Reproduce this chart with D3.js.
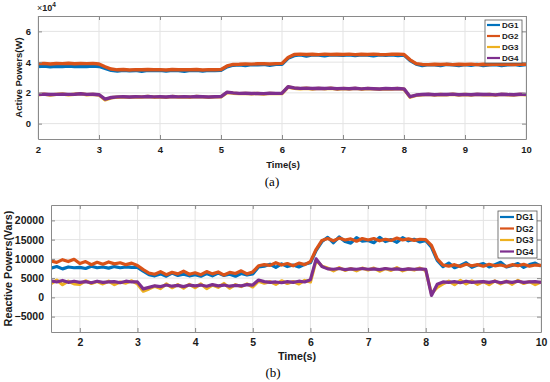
<!DOCTYPE html>
<html>
<head>
<meta charset="utf-8">
<style>
  body { margin: 0; background: #fff; }
  svg { font-family: "Liberation Sans", Arial, sans-serif; }
  .tick text { font-weight: bold; fill: #1a1a1a; }
  .grid line { stroke: #e3e3e3; }
</style>
</head>
<body>
<div id="chart"></div>
<script src="https://d3js.org/d3.v7.min.js"></script>
<script>
var seriesNames = ['DG1', 'DG2', 'DG3', 'DG4'];
var colors = ['#0072BD', '#D95319', '#EDB120', '#7E2F8E'];

// (a) active power, values in x10^4 W, sampled every 0.1 s
var timeA = [2.0,2.1,2.2,2.3,2.4,2.5,2.6,2.7,2.8,2.9,3.0,3.1,3.2,3.3,3.4,3.5,3.6,3.7,3.8,3.9,
  4.0,4.1,4.2,4.3,4.4,4.5,4.6,4.7,4.8,4.9,5.0,5.1,5.2,5.3,5.4,5.5,5.6,5.7,5.8,5.9,
  6.0,6.1,6.2,6.3,6.4,6.5,6.6,6.7,6.8,6.9,7.0,7.1,7.2,7.3,7.4,7.5,7.6,7.7,7.8,7.9,
  8.0,8.1,8.2,8.3,8.4,8.5,8.6,8.7,8.8,8.9,9.0,9.1,9.2,9.3,9.4,9.5,9.6,9.7,9.8,9.9,10.0];
var activeDG1 = [3.72,3.74,3.7,3.73,3.72,3.75,3.71,3.73,3.72,3.74,
  3.72,3.6,3.46,3.42,3.47,3.44,3.46,3.41,3.47,3.45,
  3.46,3.42,3.47,3.45,3.41,3.46,3.47,3.42,3.46,3.45,
  3.47,3.7,3.8,3.83,3.78,3.84,3.82,3.85,3.8,3.86,
  3.86,4.25,4.42,4.47,4.4,4.48,4.46,4.41,4.47,4.46,
  4.45,4.48,4.42,4.47,4.46,4.41,4.47,4.45,4.48,4.42,
  4.46,4.1,3.87,3.78,3.84,3.82,3.77,3.85,3.83,3.78,
  3.84,3.8,3.85,3.77,3.83,3.84,3.78,3.82,3.85,3.79,3.84];
var activeDG2 = [3.9,3.92,3.88,3.91,3.9,3.93,3.89,3.91,3.9,3.92,
  3.88,3.7,3.55,3.5,3.52,3.49,3.51,3.5,3.52,3.5,
  3.51,3.49,3.52,3.5,3.51,3.5,3.52,3.49,3.51,3.5,
  3.52,3.75,3.85,3.86,3.88,3.87,3.89,3.9,3.88,3.9,
  3.92,4.3,4.5,4.52,4.5,4.51,4.49,4.52,4.5,4.51,
  4.5,4.52,4.49,4.51,4.5,4.52,4.5,4.49,4.51,4.52,
  4.5,4.15,3.9,3.85,3.84,3.86,3.85,3.87,3.84,3.86,
  3.85,3.87,3.84,3.86,3.85,3.87,3.84,3.86,3.85,3.87,3.86];
var activeDG3 = [1.88,1.92,1.86,1.9,1.93,1.87,1.91,1.95,1.88,1.9,
  1.86,1.55,1.68,1.72,1.74,1.71,1.75,1.73,1.76,1.72,
  1.74,1.71,1.76,1.73,1.75,1.72,1.76,1.74,1.71,1.75,
  1.74,2.02,1.98,1.95,1.97,1.94,1.96,1.93,1.97,1.95,
  1.96,2.38,2.3,2.27,2.3,2.25,2.29,2.26,2.3,2.24,
  2.28,2.25,2.29,2.24,2.28,2.26,2.23,2.27,2.25,2.28,
  2.24,1.72,1.84,1.87,1.9,1.86,1.89,1.87,1.91,1.86,
  1.89,1.86,1.9,1.87,1.89,1.85,1.9,1.88,1.86,1.9,1.88];
var activeDG4 = [1.9,1.91,1.89,1.9,1.92,1.9,1.91,1.94,1.9,1.91,
  1.88,1.6,1.7,1.74,1.75,1.73,1.75,1.74,1.76,1.74,
  1.75,1.73,1.76,1.74,1.75,1.74,1.76,1.75,1.73,1.75,
  1.76,2.05,2.0,1.97,1.98,1.96,1.97,1.95,1.98,1.97,
  1.98,2.4,2.32,2.29,2.31,2.28,2.3,2.28,2.31,2.27,
  2.29,2.27,2.3,2.26,2.29,2.27,2.25,2.28,2.27,2.28,
  2.26,1.75,1.86,1.89,1.91,1.88,1.9,1.89,1.92,1.88,
  1.9,1.88,1.91,1.89,1.9,1.87,1.91,1.89,1.88,1.91,1.9];
var activeTicksX = [2, 3, 4, 5, 6, 7, 8, 9, 10];
var activeTicksY = [0, 2, 4, 6];

// (b) reactive power, Vars
var timeB = [1.5,1.6,1.7,1.8,1.9,
  2.0,2.1,2.2,2.3,2.4,2.5,2.6,2.7,2.8,2.9,3.0,3.1,3.2,3.3,3.4,3.5,3.6,3.7,3.8,3.9,
  4.0,4.1,4.2,4.3,4.4,4.5,4.6,4.7,4.8,4.9,5.0,5.1,5.2,5.3,5.4,5.5,5.6,5.7,5.8,5.9,
  6.0,6.1,6.2,6.3,6.4,6.5,6.6,6.7,6.8,6.9,7.0,7.1,7.2,7.3,7.4,7.5,7.6,7.7,7.8,7.9,
  8.0,8.1,8.2,8.3,8.4,8.5,8.6,8.7,8.8,8.9,9.0,9.1,9.2,9.3,9.4,9.5,9.6,9.7,9.8,9.9,10.0];
var reactiveDG1 = [7600,8000,7400,7900,7700,
  7800,7500,8100,7700,7900,7600,8000,7700,7900,7800,
  7800,6800,5900,5600,6100,5500,6300,5700,6000,5600,
  5900,5500,6200,5600,6300,5700,6000,5500,6200,5800,
  6100,7900,8100,8600,7800,8700,8000,8400,7900,8600,
  9000,12200,14500,15600,14200,15700,14500,14100,15500,14600,
  14800,14200,15600,14500,15000,14300,15500,14700,15100,14400,
  14800,13000,9600,8000,8900,7700,8300,9000,7800,8400,
  8800,7900,8500,9100,7900,8300,8800,7800,8500,8900,8100];
var reactiveDG2 = [9400,9100,9800,9300,9900,
  8800,9300,8500,9100,8600,9200,8700,9000,8500,8900,
  8300,7200,6300,6000,6700,5900,6500,6100,6800,6000,
  6400,5900,6700,6100,6600,5800,6500,6200,6900,6100,
  6600,8200,8500,8300,9000,8400,8800,8200,8900,8500,
  9300,12500,14800,15300,14700,15400,14900,15200,14600,15300,
  14900,15300,14700,15100,14800,15400,14900,15200,14800,15100,
  15000,13500,10000,8400,8100,8500,8000,8600,8200,8500,
  8100,8600,8200,8400,8000,8500,8200,8600,8100,8400,8300];
var reactiveDG3 = [3600,4500,3300,4200,3500,
  3400,4300,3600,4100,3500,4200,3300,4000,3700,4300,
  3500,1600,2200,2900,2300,3500,2500,3300,2400,3400,
  2500,3500,2300,3200,2600,3600,2400,3300,2800,3500,
  2700,4200,3700,4100,3400,4300,3600,4100,3500,4400,
  4000,9600,8100,7600,6900,7700,7000,7500,6900,7600,
  7100,7600,6800,7500,7000,7700,6900,7400,7100,7600,
  7000,1000,2600,3500,4200,3300,4400,3500,4300,3400,
  4100,3300,4300,3500,4200,3400,4400,3600,4100,3300,4000];
var reactiveDG4 = [4300,4000,4400,3900,4200,
  3900,4100,3800,4200,3900,4000,4100,3800,4200,4000,
  4000,2200,2600,3000,2800,3200,2900,3100,2800,3200,
  3000,3200,2900,3300,3000,3200,2900,3100,3000,3300,
  3200,4500,4100,3900,4000,3800,4100,3900,4200,4000,
  4600,10000,8000,7400,7300,7500,7200,7400,7300,7500,
  7300,7400,7200,7500,7300,7400,7200,7400,7300,7400,
  7300,500,3400,4000,3900,4100,3800,4200,3900,4000,
  4100,3900,4200,3800,4100,3900,4200,3900,4000,4100,3900];
var reactiveTicksX = [2, 3, 4, 5, 6, 7, 8, 9, 10];
var reactiveTicksY = [-5000, 0, 5000, 10000, 15000, 20000];

var svg = d3.select('#chart').append('svg')
  .attr('width', 550).attr('height', 382);

function panel(opt) {
  var x = d3.scaleLinear().domain(opt.xDomain).range([opt.left, opt.right]);
  var y = d3.scaleLinear().domain(opt.yDomain).range([opt.bottom, opt.top]);
  var g = svg.append('g');

  g.append('clipPath').attr('id', opt.id)
    .append('rect')
    .attr('x', opt.left).attr('y', opt.top)
    .attr('width', opt.right - opt.left).attr('height', opt.bottom - opt.top);

  // grid
  g.append('g').attr('class', 'grid').selectAll('line.gx')
    .data(opt.xTicks).enter().append('line')
    .attr('x1', x).attr('x2', x).attr('y1', opt.top).attr('y2', opt.bottom);
  g.append('g').attr('class', 'grid').selectAll('line.gy')
    .data(opt.yTicks).enter().append('line')
    .attr('y1', y).attr('y2', y).attr('x1', opt.left).attr('x2', opt.right);

  // data lines
  var line = d3.line()
    .x(function(d) { return x(d[0]); })
    .y(function(d) { return y(d[1]); });
  var lines = g.append('g').attr('clip-path', 'url(#' + opt.id + ')');
  opt.series.forEach(function(vals, i) {
    lines.append('path')
      .datum(opt.time.map(function(t, k) { return [t, vals[k]]; }))
      .attr('fill', 'none')
      .attr('stroke', colors[i])
      .attr('stroke-width', opt.lw)
      .attr('stroke-linejoin', 'round')
      .attr('d', line);
  });

  // axes (ticks inside, box on)
  var fmt = opt.fmt || d3.format('d');
  var ax = [
    [d3.axisBottom(x).tickValues(opt.xTicks).tickSizeInner(-4).tickSizeOuter(0).tickPadding(7), opt.bottom, 0, true],
    [d3.axisTop(x).tickValues(opt.xTicks).tickSizeInner(-4).tickSizeOuter(0), opt.top, 0, false],
    [d3.axisLeft(y).tickValues(opt.yTicks).tickSizeInner(-4).tickSizeOuter(0).tickPadding(7).tickFormat(fmt), 0, opt.left, true],
    [d3.axisRight(y).tickValues(opt.yTicks).tickSizeInner(-4).tickSizeOuter(0), 0, opt.right, false]
  ];
  ax.forEach(function(a) {
    var ag = g.append('g')
      .attr('transform', 'translate(' + a[2] + ',' + a[1] + ')')
      .call(a[0]);
    ag.select('.domain').attr('stroke', '#8a8a8a');
    ag.selectAll('.tick line').attr('stroke', '#8a8a8a');
    ag.selectAll('.tick text').style('font-size', opt.fs + 'px');
    if (!a[3]) ag.selectAll('.tick text').remove();
  });

  // labels
  g.append('text')
    .attr('transform', 'translate(' + opt.yLabelX + ',' + ((opt.top + opt.bottom) / 2) + ') rotate(-90)')
    .attr('text-anchor', 'middle')
    .style('font-weight', 'bold').style('font-size', opt.labelFs + 'px')
    .attr('fill', '#1a1a1a')
    .text(opt.yLabel);
  g.append('text')
    .attr('x', opt.xLabelX).attr('y', opt.xLabelY)
    .attr('text-anchor', 'middle')
    .style('font-weight', 'bold').style('font-size', opt.labelFs + 'px')
    .attr('fill', '#1a1a1a')
    .text('Time(s)');
  g.append('text')
    .attr('x', opt.capX).attr('y', opt.capY)
    .attr('text-anchor', 'middle')
    .style('font-family', '"Liberation Serif", serif').style('font-size', '13px')
    .text(opt.caption);

  // legend
  var lg = opt.legend;
  g.append('rect')
    .attr('x', lg.x).attr('y', lg.y).attr('width', lg.w).attr('height', lg.h)
    .attr('fill', '#fff').attr('stroke', '#555').attr('stroke-width', 0.8);
  seriesNames.forEach(function(name, i) {
    var yy = lg.y + lg.first + i * lg.step;
    g.append('line')
      .attr('x1', lg.x + 2).attr('x2', lg.x + 2 + lg.len)
      .attr('y1', yy).attr('y2', yy)
      .attr('stroke', colors[i]).attr('stroke-width', 2.2);
    g.append('text')
      .attr('x', lg.x + 4 + lg.len).attr('y', yy + lg.fs * 0.36)
      .style('font-weight', 'bold').style('font-size', lg.fs + 'px').attr('fill', '#1a1a1a')
      .text(name);
  });
  return g;
}

var gA = panel({
  id: 'clipA', left: 38, right: 526, top: 16, bottom: 139,
  xDomain: [2, 10], yDomain: [-1, 7],
  xTicks: activeTicksX, yTicks: activeTicksY,
  time: timeA, series: [activeDG1, activeDG2, activeDG3, activeDG4], lw: 3.4,
  fs: 9.5, labelFs: 9.5, yLabel: 'Active Powers(W)', yLabelX: 22,
  xLabelX: 283, xLabelY: 168, capX: 272, capY: 186, caption: '(a)',
  legend: { x: 485, y: 20, w: 37, h: 43, first: 5, step: 11, len: 13, fs: 8 }
});
// x10^4 multiplier
var mult = gA.append('text').attr('x', 37).attr('y', 11)
  .style('font-size', '9px').attr('fill', '#222');
mult.append('tspan').text('\u00d7');
mult.append('tspan').style('font-weight', 'bold').text('10');
mult.append('tspan').attr('dy', -4).style('font-size', '6.5px').style('font-weight', 'bold').text('4');

panel({
  id: 'clipB', left: 51, right: 541, top: 205, bottom: 332,
  xDomain: [1.5, 10], yDomain: [-9000, 24000],
  xTicks: reactiveTicksX, yTicks: reactiveTicksY,
  time: timeB, series: [reactiveDG1, reactiveDG2, reactiveDG3, reactiveDG4], lw: 3.2,
  fs: 10.5, labelFs: 10.8, yLabel: 'Reactive Powers(Vars)', yLabelX: 12,
  xLabelX: 297, xLabelY: 360, capX: 273, capY: 377, caption: '(b)',
  legend: { x: 498, y: 211, w: 39, h: 47, first: 6, step: 11.5, len: 14, fs: 8.5 }
});
</script>
</body>
</html>
